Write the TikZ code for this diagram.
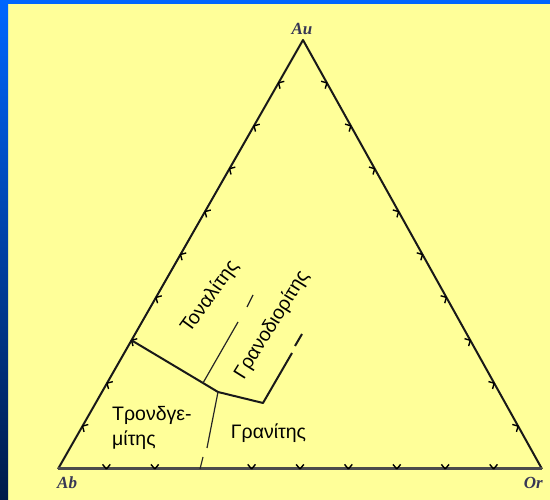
\documentclass[tikz,border=0pt]{standalone}
\usepackage{fontspec}
\setmainfont{Liberation Sans}
\newfontfamily\cornerfont{Liberation Serif}
\usepackage{tikz}
\usetikzlibrary{calc}
\definecolor{slideyellow}{RGB}{255,255,153}
\definecolor{slideblue}{RGB}{0,102,255}
\definecolor{slidenavy}{RGB}{0,26,72}
\definecolor{cornergray}{RGB}{55,55,85}

\begin{document}
\begin{tikzpicture}[x=1pt, y=1pt,
    side/.style={black!90, line width=2pt, line join=round},
    base/.style={black!70, line width=3pt},
    tick/.style={black, line width=1.4pt},
    border/.style={black!90, line width=2pt, line join=round},
    thinborder/.style={black!85, line width=1.2pt},
    field/.style={font=\fontsize{19.5}{25}\selectfont, inner sep=0pt},
    corner/.style={font=\cornerfont\bfseries\itshape\fontsize{17}{17}\selectfont, text=cornergray, inner sep=0pt}]

\useasboundingbox (0,0) rectangle (550,500);

% slide background
\fill[slideyellow] (0,0) rectangle (550,500);
\shade[top color=slideblue, bottom color=slidenavy] (0,0) rectangle (8,500);
\fill[slideblue] (0,496) rectangle (550,500);

% corners of the triangle
\coordinate (Ab) at (58,31);
\coordinate (Or) at (542,31);
\coordinate (Au) at (303,460);

% sides
\draw[side] (Ab) -- (Au) -- (Or);
\draw[base] (Ab) -- (Or);

% ticks every 10%
\foreach \k in {1,...,9} {
    \coordinate (t) at ($(Ab)!\k/10!(Au)$);
    \draw[tick] (t) -- ++(15:6) (t) -- ++(-75:6);   % left side
    \coordinate (t) at ($(Or)!\k/10!(Au)$);
    \draw[tick] (t) -- ++(164:6) (t) -- ++(254:6);  % right side
}
\foreach \k in {1,2,4,5,6,7,8,9} {
    \coordinate (t) at ($(Ab)!\k/10!(Or)$);
    \draw[tick] (t) -- ++(50:6) (t) -- ++(130:6);   % base
}

% field boundaries
\coordinate (J1) at ($(Ab)!0.3!(Au)$);
\coordinate (P1) at (203,117);
\coordinate (P2) at (218,108);
\coordinate (P3) at (263,97);
\coordinate (Q1) at (292,147);
\coordinate (Q2) at (295,154);
\coordinate (Q3) at (302,166);
\draw[border] (J1) -- (P1) -- (P2) -- (P3) -- (Q1);
\draw[border] (Q2) -- (Q3);

\coordinate (T1) at (238,178);
\coordinate (T2) at (247,193);
\coordinate (T3) at (253,205);
\draw[thinborder] (P1) -- (T1);
\draw[thinborder] (T2) -- (T3);

\coordinate (G1) at (207,52);
\coordinate (G2) at (203,43);
\coordinate (G3) at (200,31);
\draw[thinborder] (P2) .. controls (212,80) .. (G1);
\draw[thinborder] (G2) -- (G3);

% field names
\node[field, rotate=54] (tonalite) at (210,203) {Τοναλίτης};
\node[field, rotate=58] (granodiorite) at (272,175) {Γρανοδιορίτης};
\node[field, align=left, anchor=west] (trondhjemite) at (112,72.5) {Τρονδγε-\\μίτης};
\node[field, anchor=base] (granite) at (268.5,61) {Γρανίτης};

% corner labels
\node[corner, anchor=north west] (ablabel) at (57,23) {Ab};
\node[corner, anchor=north east] (orlabel) at (543,23) {Or};
\node[corner, anchor=south] (aulabel) at (302,465) {Au};

\end{tikzpicture}
\end{document}
